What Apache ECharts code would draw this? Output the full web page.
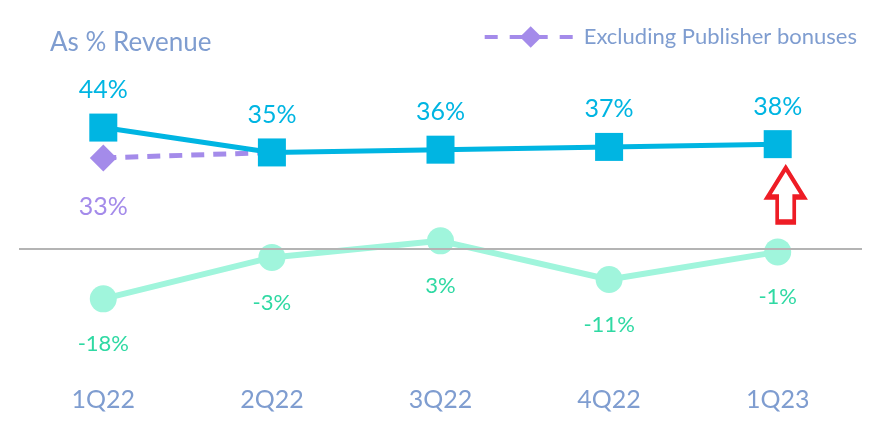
<!DOCTYPE html>
<html><head><meta charset="utf-8">
<script src="https://cdn.jsdelivr.net/npm/echarts@6/dist/echarts.min.js"></script>
<style>html,body{margin:0;padding:0;background:#fff}#c{width:883px;height:429px}</style>
</head><body><div id="c"></div>
<script>
const categories = ['1Q22', '2Q22', '3Q22', '4Q22', '1Q23'];
const revenueShare = [44, 35, 36, 37, 38];
const exclBonuses = [33, 35, null, null, null];
const margin = [-18, -3, 3, -11, -1];
const arrowAt = ['1Q23', 19.6];

const FONT = 'Lato';
const chart = echarts.init(document.getElementById('c'));
chart.setOption({
  animation: false,
  textStyle: { fontFamily: FONT },
  title: {
    text: 'As % Revenue', left: 45, top: 25,
    textStyle: { fontFamily: FONT, fontSize: 26, fontWeight: 'normal', color: '#7f9dd0' }
  },
  legend: {
    data: ['Excluding Publisher bonuses'],
    right: 21, top: 21,
    itemWidth: 92, itemHeight: 27, itemGap: 14,
    lineStyle: { type: [13, 12], width: 4 },
    textStyle: { fontFamily: FONT, fontSize: 22, color: '#7f9dd0', padding: [0, 0, 0, 2] }
  },
  grid: { left: 19, right: 21, top: 111, bottom: 97 },
  xAxis: {
    type: 'category', data: categories,
    axisLine: { show: false }, axisTick: { show: false },
    axisLabel: { margin: 55, fontFamily: FONT, fontSize: 25, color: '#7f9dd0' }
  },
  yAxis: {
    type: 'value', min: -30, max: 50, show: false, splitLine: { show: false }
  },
  series: [
    {
      name: 'zero', type: 'line', data: [], z: 1, silent: true,
      markLine: {
        silent: true, symbol: 'none', label: { show: false },
        lineStyle: { color: '#b4b4b4', width: 2, type: 'solid' },
        data: [{ yAxis: 0 }]
      }
    },
    {
      name: 'Excluding Publisher bonuses', type: 'line', data: exclBonuses, z: 2,
      symbol: 'diamond', symbolSize: 27, connectNulls: false,
      lineStyle: { color: '#a48bea', width: 5, type: [13, 9] },
      itemStyle: { color: '#a48bea' },
      label: {
        show: true, position: 'bottom', distance: 23,
        formatter: p => p.dataIndex === 0 ? p.value + '%' : '',
        fontFamily: FONT, fontSize: 25, color: '#a48bea'
      }
    },
    {
      name: 'Margin', type: 'line', data: margin, z: 3,
      symbol: 'circle', symbolSize: 27,
      lineStyle: { color: '#a0f5dc', width: 6 },
      itemStyle: { color: '#a0f5dc' },
      label: {
        show: true, position: 'bottom', distance: 21,
        formatter: '{c}%', fontFamily: FONT, fontSize: 22, color: '#2fd9a3'
      }
    },
    {
      name: 'As % Revenue', type: 'line', data: revenueShare, z: 4,
      symbol: 'rect', symbolSize: 28,
      lineStyle: { color: '#00b5e2', width: 5 },
      itemStyle: { color: '#00b5e2' },
      label: {
        show: true, position: 'top', distance: 11,
        formatter: '{c}%', fontFamily: FONT, fontSize: 25, color: '#00b5e2'
      },
      markPoint: {
        silent: true,
        symbol: 'path://M19 0 L38 30 L28 30 L28 56 L10 56 L10 30 L0 30 Z',
        symbolSize: [36, 54], symbolOffset: [8, 0],
        itemStyle: { color: 'rgba(0,0,0,0)', borderColor: '#ee1c25', borderWidth: 4.5 },
        label: { show: false },
        data: [{ coord: arrowAt }]
      }
    }
  ]
});
</script></body></html>
